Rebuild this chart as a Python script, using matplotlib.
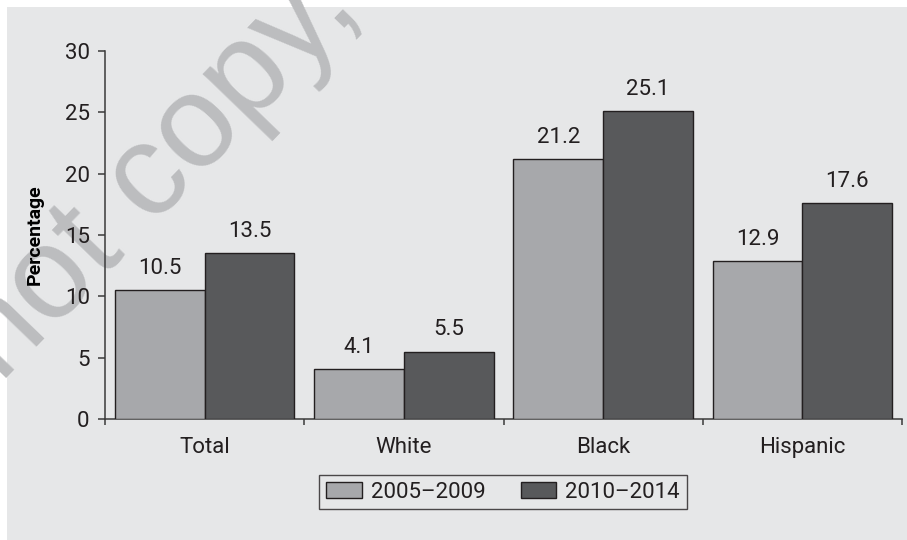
import matplotlib
matplotlib.use("Agg")
import matplotlib.pyplot as plt
from matplotlib.patches import Rectangle
import numpy as np

# data
categories = ["Total", "White", "Black", "Hispanic"]
periods = ["2005\u20132009", "2010\u20132014"]
values_2005_2009 = [10.5, 4.1, 21.2, 12.9]
values_2010_2014 = [13.5, 5.5, 25.1, 17.6]

plt.rcParams['font.family'] = ['Roboto', 'DejaVu Sans']
text_col = '#231f20'
bg_col = '#e6e7e8'
colors = ['#a7a8ab', '#58595b']

fig = plt.figure(figsize=(9.07, 5.40), dpi=100)
fig.patch.set_facecolor('white')

# gray panel behind everything (white strip at top and left)
fig.patches.append(Rectangle((7 / 907, 0), 1, 1 - 7 / 540, transform=fig.transFigure,
                             facecolor=bg_col, edgecolor='none', zorder=-3))

# watermark
fig.text(-140 / 907, 1 - 530 / 540, "Do not copy, post, or distribute", transform=fig.transFigure,
         rotation=46, rotation_mode='anchor', ha='left', va='baseline',
         fontsize=94, color='#bcbdbf', family=['Liberation Sans', 'DejaVu Sans'], zorder=-2)

ax = fig.add_axes([105 / 907, 1 - 419 / 540, (902 - 105) / 907, (419 - 51) / 540])
ax.patch.set_visible(False)

x = np.arange(len(categories))
w = 0.45
series = [values_2005_2009, values_2010_2014]
for i, (vals, lab) in enumerate(zip(series, periods)):
    pos = x + (i - 0.5) * w
    bars = ax.bar(pos, vals, width=w, color=colors[i], edgecolor=text_col,
                  linewidth=1.0, label=lab, zorder=3)
    for b, v in zip(bars, vals):
        ax.annotate(f"{v:.1f}", (b.get_x() + b.get_width() / 2, v), xytext=(0, 8),
                    textcoords='offset points', ha='center', va='bottom',
                    fontsize=16, color=text_col)

ax.set_xlim(-0.5, len(categories) - 0.5)
ax.set_ylim(0, 30)
ax.set_yticks(range(0, 31, 5))
ax.set_xticks(x)
ax.set_xticklabels(categories)
ax.set_xticks(np.arange(-0.5, len(categories), 1), minor=True)

for s in ['top', 'right']:
    ax.spines[s].set_visible(False)
for s in ['left', 'bottom']:
    ax.spines[s].set_color('#3a3a3a')
    ax.spines[s].set_linewidth(1.1)

ax.tick_params(axis='y', length=5, width=1.1, color='#3a3a3a', pad=6,
               labelsize=16, labelcolor=text_col)
ax.tick_params(axis='x', which='major', length=0, pad=13, labelsize=16, labelcolor=text_col)
ax.tick_params(axis='x', which='minor', length=4.5, width=1.1, color='#3a3a3a')

fig.text(35 / 907, 1 - 235 / 540, "Percentage", rotation=90, ha='center', va='center',
         fontsize=14, fontweight='bold', color='black')

leg = fig.legend(loc='center', bbox_to_anchor=(503 / 907, 1 - 492 / 540), ncol=2,
                 frameon=True, fancybox=False, fontsize=16, handlelength=1.6,
                 handleheight=0.7, handletextpad=0.4, columnspacing=1.6,
                 borderpad=0.3, labelcolor=text_col)
leg.get_frame().set_edgecolor(text_col)
leg.get_frame().set_facecolor('none')
leg.get_frame().set_linewidth(1.0)

fig.savefig("out.png", dpi=100)
